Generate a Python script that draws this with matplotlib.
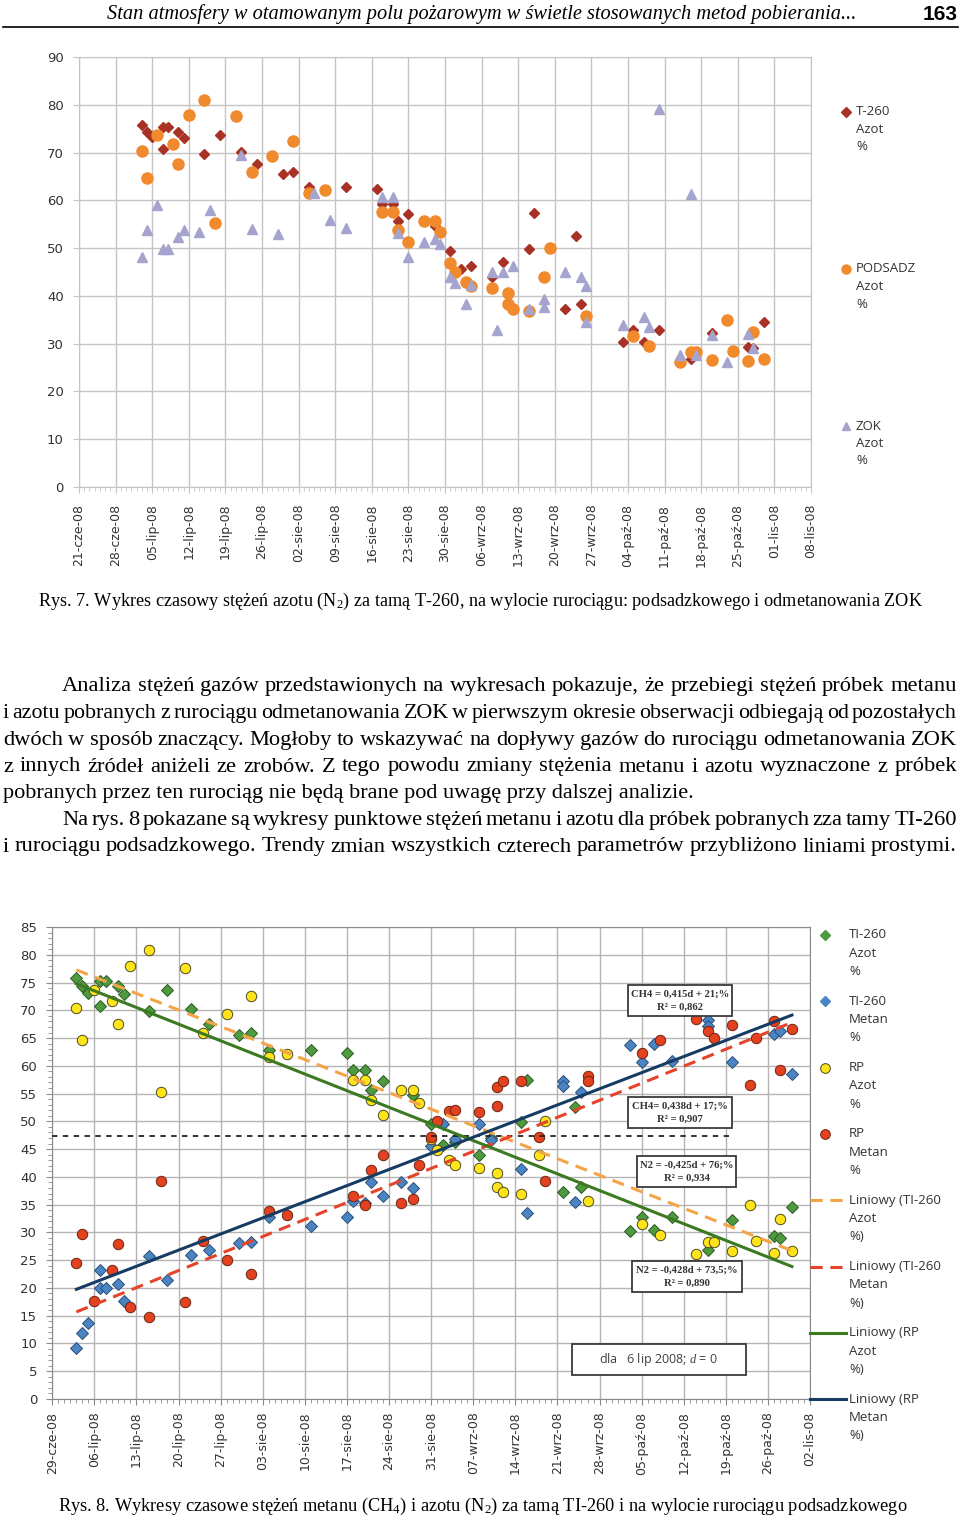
import matplotlib
matplotlib.use('Agg')
import matplotlib.pyplot as plt
from matplotlib.lines import Line2D
from matplotlib.patches import Rectangle
import numpy as np

plt.rcParams['mathtext.fontset'] = 'custom'
plt.rcParams['mathtext.rm'] = 'Liberation Serif'
plt.rcParams['mathtext.it'] = 'Liberation Serif:italic'

# dni liczone od 21-cze-2008
dni_t260_n2 = [12, 13, 14, 16, 16, 17, 19, 20, 24, 27, 31, 34, 39, 41, 44, 51, 57, 58, 60, 61, 63,
               68, 71, 73, 75, 79, 81, 86, 87, 93, 95, 96, 104, 106, 108, 111, 117, 121, 128, 129, 131]
t260_n2 = [75.8, 74.3, 73.2, 75.3, 70.8, 75.3, 74.4, 73.0, 69.8, 73.7, 70.2, 67.6, 65.5, 65.9, 62.8,
           62.8, 62.3, 59.2, 59.2, 55.6, 57.2, 54.7, 49.5, 45.7, 46.3, 44.0, 47.0, 49.8, 57.4, 37.2,
           52.5, 38.2, 30.3, 32.8, 30.4, 32.8, 26.8, 32.3, 29.4, 29.0, 34.5]

dni_rp_n2 = [12, 13, 15, 18, 19, 21, 24, 26, 30, 33, 37, 41, 44, 47, 58, 60, 61, 63, 66, 68, 69, 71,
             72, 74, 75, 79, 82, 82, 83, 86, 89, 90, 97, 106, 109, 115, 117, 118, 121, 124, 125, 128, 129, 131]
rp_n2 = [70.4, 64.7, 73.7, 71.7, 67.6, 77.9, 80.9, 55.3, 77.7, 66.0, 69.3, 72.5, 61.6, 62.1, 57.5,
         57.5, 53.8, 51.2, 55.7, 55.6, 53.3, 46.8, 44.9, 43.0, 42.1, 41.6, 40.7, 38.2, 37.2, 36.9,
         44.0, 50.1, 35.7, 31.6, 29.6, 26.1, 28.2, 28.3, 26.6, 34.9, 28.4, 26.3, 32.4, 26.7]

dni_zok_n2 = [12, 13, 15, 16, 17, 19, 20, 23, 25, 31, 33, 38, 45, 48, 51, 58, 60, 61, 63, 66, 68, 69,
              71, 72, 74, 75, 79, 80, 81, 83, 86, 89, 89, 93, 96, 97, 97, 104, 108, 109, 111, 115,
              117, 118, 121, 124, 128, 129]
zok_n2 = [48.1, 53.7, 59.0, 49.8, 49.8, 52.4, 53.7, 53.4, 57.9, 69.5, 53.9, 53.0, 61.6, 55.9, 54.2,
          60.6, 60.6, 53.1, 48.2, 51.2, 52.0, 50.9, 44.0, 42.8, 38.3, 42.3, 45.1, 32.8, 45.1, 46.3,
          37.3, 39.3, 37.7, 44.9, 44.0, 42.1, 34.6, 34.0, 35.6, 33.4, 79.1, 27.6, 61.4, 27.7, 31.9,
          26.2, 32.0, 29.0]

dni_t260_ch4 = [12, 13, 14, 16, 16, 17, 19, 20, 24, 27, 31, 34, 39, 41, 44, 51, 57, 58, 60, 61, 63,
                66, 68, 71, 73, 75, 79, 81, 86, 87, 93, 93, 95, 96, 104, 106, 108, 111, 117, 117,
                121, 128, 129, 131]
t260_ch4 = [9.1, 11.9, 13.6, 23.3, 20.0, 20.0, 20.7, 17.6, 25.7, 21.5, 26.0, 26.8, 28.1, 28.2, 32.7,
            31.1, 32.8, 35.6, 35.3, 39.1, 36.6, 39.0, 38.0, 45.6, 49.5, 46.8, 49.6, 46.6, 41.5, 33.5,
            57.2, 56.3, 35.5, 55.2, 63.8, 60.6, 63.9, 60.9, 68.2, 67.2, 60.7, 65.7, 66.2, 58.5]

dni_rp_ch4 = [12, 13, 15, 18, 19, 21, 24, 26, 30, 33, 37, 41, 44, 47, 58, 60, 61, 63, 66, 68, 69, 71,
              72, 74, 75, 79, 82, 82, 83, 86, 89, 90, 97, 97, 106, 109, 115, 117, 118, 121, 124,
              125, 128, 129, 131]
rp_ch4 = [24.5, 29.7, 17.7, 23.2, 27.9, 16.6, 14.7, 39.3, 17.5, 28.5, 25.0, 22.5, 33.8, 33.2, 36.5,
          35.0, 41.3, 43.9, 35.3, 36.0, 42.1, 47.2, 50.1, 51.8, 52.1, 51.7, 52.7, 56.2, 57.3, 57.2,
          47.2, 39.2, 58.1, 57.3, 62.3, 64.7, 68.5, 66.3, 65.1, 67.4, 56.5, 65.1, 68.0, 59.3, 66.6]

# trendy liniowe: y = a*d + b, d = 0 dla 6 lip 2008 (dzien 15)
trend_a = [-0.425, 0.438, -0.428, 0.415]
trend_b = [76, 17, 73.5, 21]
trend_r2 = ['0,934', '0,907', '0,890', '0,862']
trend_txt = ['N2 = -0,425d + 76;%', 'CH4= 0,438d + 17;%', 'N2 = -0,428d + 73,5;%', 'CH4 = 0,415d + 21;%']
d_zero = 15
poziom_przeciecia = 47.3

etyk_gora = ['21-cze-08', '28-cze-08', '05-lip-08', '12-lip-08', '19-lip-08', '26-lip-08', '02-sie-08',
             '09-sie-08', '16-sie-08', '23-sie-08', '30-sie-08', '06-wrz-08', '13-wrz-08', '20-wrz-08',
             '27-wrz-08', '04-paź-08', '11-paź-08', '18-paź-08', '25-paź-08', '01-lis-08', '08-lis-08']
etyk_dol = ['29-cze-08', '06-lip-08', '13-lip-08', '20-lip-08', '27-lip-08', '03-sie-08', '10-sie-08',
            '17-sie-08', '24-sie-08', '31-sie-08', '07-wrz-08', '14-wrz-08', '21-wrz-08', '28-wrz-08',
            '05-paź-08', '12-paź-08', '19-paź-08', '26-paź-08', '02-lis-08']

W, H = 960, 1516
fig = plt.figure(figsize=(W / 100, H / 100), dpi=100)
renderer = fig.canvas.get_renderer()
TXT = '#333333'


def fx(x):
    return x / W


def fy(y):
    return 1 - y / H


def fit_text(s, x0, x1, y, **kw):
    t = fig.text(fx(x0), fy(y), s, ha='left', va='baseline', **kw)
    w = t.get_window_extent(renderer).width
    t.set_fontsize(t.get_fontsize() * (x1 - x0) / w)
    return t


def justify(line, x0, x1, y, size):
    words = line.split(' ')
    arts = [fig.text(0, fy(y), w, fontsize=size, family='Liberation Serif', va='baseline', color='black')
            for w in words]
    while True:
        ws = [a.get_window_extent(renderer).width for a in arts]
        gap = (x1 - x0 - sum(ws)) / (len(words) - 1)
        if gap >= 3 or size < 12:
            break
        size -= 0.2
        for a in arts:
            a.set_fontsize(size)
    x = x0
    for a, w in zip(arts, ws):
        a.set_x(fx(x))
        x += w + gap


def style_axes(ax, xlim, ylim, xt, xl, yt, gc, pad_x):
    ax.set_xlim(*xlim)
    ax.set_ylim(*ylim)
    ax.set_xticks(xt)
    ax.set_xticklabels(xl, rotation=90, fontsize=9, color=TXT, family='DejaVu Sans')
    ax.set_xticks(np.arange(xlim[0], xlim[1] + 1), minor=True)
    ax.set_yticks(yt)
    ax.tick_params(axis='y', labelsize=9.5, labelcolor=TXT, pad=7)
    ax.tick_params(axis='x', pad=pad_x)
    ax.tick_params(which='both', color=gc, direction='out')
    ax.tick_params(which='major', length=4)
    ax.tick_params(which='minor', length=3)
    ax.grid(True, which='major', color=gc, lw=1)
    ax.set_axisbelow(True)


# ---------------- naglowek ----------------
fit_text('Stan atmosfery w otamowanym polu pożarowym w świetle stosowanych metod pobierania...',
         107, 855, 19, family='Liberation Serif', style='italic', fontsize=14)
fig.text(fx(958), fy(20), '163', ha='right', va='baseline', fontsize=15, weight='bold',
         family='Liberation Sans')
fig.add_artist(Line2D([fx(3), fx(958)], [fy(27), fy(27)], color='black', lw=1.2, transform=fig.transFigure))

# ---------------- wykres 1 ----------------
ax1 = fig.add_axes([fx(79), fy(487), (811 - 79) / W, (487 - 57) / H])
style_axes(ax1, (0, 140), (0, 90), range(0, 141, 7), etyk_gora, range(0, 91, 10), '#C4C4C4', 8)
for s in ax1.spines.values():
    s.set_color('#C4C4C4')
ax1.plot(dni_t260_n2, t260_n2, 'D', ms=5.5, color='#A93226', mec='#A93226', ls='none')
ax1.plot(dni_rp_n2, rp_n2, 'o', ms=8, color='#F08A2C', mec='#F08A2C', ls='none')
ax1.plot(dni_zok_n2, zok_n2, '^', ms=7.5, color='#A4A4CE', mec='#A4A4CE', ls='none')

leg1 = [('D', 5, '#A93226', ['T-260', 'Azot', '%'], 111.7),
        ('o', 6.5, '#F08A2C', ['PODSADZ', 'Azot', '%'], 269),
        ('^', 6, '#A4A4CE', ['ZOK', 'Azot', '%'], 426)]
for m, ms, c, lines, y in leg1:
    fig.add_artist(Line2D([fx(846)], [fy(y)], marker=m, ms=ms, color=c, ls='none', transform=fig.transFigure))
    for i, s in enumerate(lines):
        fig.text(fx(856), fy(y + i * 17.5), s, va='center', ha='left', fontsize=9.5,
                 family='Open Sans', color=TXT)

fit_text('Rys. 7. Wykres czasowy stężeń azotu (N$_2$) za tamą T-260, na wylocie rurociągu: '
         'podsadzkowego i odmetanowania ZOK', 38, 922, 606, family='Liberation Serif', fontsize=13)

# ---------------- tekst ----------------
par = ['Analiza stężeń gazów przedstawionych na wykresach pokazuje, że przebiegi stężeń próbek metanu',
       'i azotu pobranych z rurociągu odmetanowania ZOK w pierwszym okresie obserwacji odbiegają od pozostałych',
       'dwóch w sposób znaczący. Mogłoby to wskazywać na dopływy gazów do rurociągu odmetanowania ZOK',
       'z innych źródeł aniżeli ze zrobów. Z tego powodu zmiany stężenia metanu i azotu wyznaczone z próbek',
       'pobranych przez ten rurociąg nie będą brane pod uwagę przy dalszej analizie.',
       'Na rys. 8 pokazane są wykresy punktowe stężeń metanu i azotu dla próbek pobranych zza tamy TI-260',
       'i rurociągu podsadzkowego. Trendy zmian wszystkich czterech parametrów przybliżono liniami prostymi.']
base = [691, 718, 745, 771.5, 798, 824.5, 851.5]
wciecie = [62, 3, 3, 3, 3, 62, 3]
for i, (line, y, x0) in enumerate(zip(par, base, wciecie)):
    if i == 4:
        fit_text(line, x0, 695, y, family='Liberation Serif', fontsize=16)
    else:
        justify(line, x0, 957, y, 16.2)

# ---------------- wykres 2 ----------------
ax2 = fig.add_axes([fx(52.3), fy(1399), (810 - 52.3) / W, (1399 - 927) / H])
style_axes(ax2, (8, 134), (0, 85), range(8, 135, 7), etyk_dol, range(0, 86, 5), '#B4B4B4', 5)
ax2.set_yticks(np.arange(0, 86, 1), minor=True)
for s in ax2.spines.values():
    s.set_color('#8A8A8A')
ax2.tick_params(which='both', color='#8A8A8A')

ax2.plot(dni_t260_n2, t260_n2, 'D', ms=6.5, color='#4E9A3E', mec='#2D5A25', mew=0.7, ls='none', zorder=3)
ax2.plot(dni_t260_ch4, t260_ch4, 'D', ms=6.5, color='#4A84C2', mec='#2B4E7A', mew=0.7, ls='none', zorder=3)
ax2.plot(dni_rp_n2, rp_n2, 'o', ms=7.5, color='#FFE41A', mec='#4A4A20', mew=0.7, ls='none', zorder=3)
ax2.plot(dni_rp_ch4, rp_ch4, 'o', ms=7.5, color='#E4411F', mec='#6A2412', mew=0.7, ls='none', zorder=3)

ax2.hlines(poziom_przeciecia, 8, 120.5, colors='#222222', linestyles=(0, (3, 3)), lw=1.3, zorder=4)

trend_styl = [dict(color='#F4A446', ls=(0, (4, 2.5)), lw=2.2),
              dict(color='#E5432A', ls=(0, (4, 2.5)), lw=2.2),
              dict(color='#3C7A22', ls='-', lw=2.2),
              dict(color='#173C63', ls='-', lw=2.2)]
d = np.array([12, 131]) - d_zero
for a, b, st in zip(trend_a, trend_b, trend_styl):
    ax2.plot(d + d_zero, a * d + b, zorder=5, **st)

# ramki z rownaniami: (x0, x1, y0, y1) w pikselach
ramki = [(637, 736, 1155.7, 1186.7), (627.7, 732.3, 1097, 1128),
         (632, 742, 1261, 1292), (627.7, 732.3, 985, 1016)]
for (x0, x1, y0, y1), eq, r2 in zip(ramki, trend_txt, trend_r2):
    fig.add_artist(Rectangle((fx(x0), fy(y1)), (x1 - x0) / W, (y1 - y0) / H, transform=fig.transFigure,
                             fc='white', ec='#3A3A3A', lw=1.3, zorder=6))
    xc = (x0 + x1) / 2
    fig.text(fx(xc), fy(y0 + 9), eq, ha='center', va='center', fontsize=7.7, weight='bold',
             family='Liberation Serif', color='#333333', zorder=7)
    fig.text(fx(xc), fy(y0 + 22.5), 'R² = ' + r2, ha='center', va='center', fontsize=7.7, weight='bold',
             family='Liberation Serif', color='#333333', zorder=7)

fig.add_artist(Rectangle((fx(571.7), fy(1374.7)), (746 - 571.7) / W, 31 / H, transform=fig.transFigure,
                         fc='white', ec='#3A3A3A', lw=1.3, zorder=6))
fig.text(fx(658.8), fy(1359), 'dla   6 lip 2008; $d$ = 0', ha='center', va='center', fontsize=9,
         family='Open Sans', color='#404040', zorder=7)

# legenda
leg2 = [(dict(marker='D', ms=5, color='#4E9A3E', ls='none'), ['TI-260', 'Azot', '%']),
        (dict(marker='D', ms=5, color='#4A84C2', ls='none'), ['TI-260', 'Metan', '%']),
        (dict(marker='o', ms=7, color='#FFE41A', mec='#4A4A20', mew=0.7, ls='none'), ['RP', 'Azot', '%']),
        (dict(marker='o', ms=7, color='#E4411F', mec='#6A2412', mew=0.7, ls='none'), ['RP', 'Metan', '%']),
        (trend_styl[0], ['Liniowy (TI-260', 'Azot', '%)']),
        (trend_styl[1], ['Liniowy (TI-260', 'Metan', '%)']),
        (trend_styl[2], ['Liniowy (RP', 'Azot', '%)']),
        (trend_styl[3], ['Liniowy (RP', 'Metan', '%)'])]
for i, (st, lines) in enumerate(leg2):
    y = 935 + i * 66.3
    if 'marker' in st:
        fig.add_artist(Line2D([fx(825)], [fy(y)], transform=fig.transFigure, **st))
    else:
        fig.add_artist(Line2D([fx(810), fx(846)], [fy(y), fy(y)], transform=fig.transFigure, **st))
    for j, s in enumerate(lines):
        fig.text(fx(849), fy(y + j * 18.3), s, va='center', ha='left', fontsize=9.5,
                 family='Open Sans', color=TXT)

fit_text('Rys. 8. Wykresy czasowe stężeń metanu (CH$_4$) i azotu (N$_2$) za tamą TI-260 i na wylocie '
         'rurociągu podsadzkowego', 58, 903, 1511, family='Liberation Serif', fontsize=13)

fig.savefig('out.png', dpi=100)
